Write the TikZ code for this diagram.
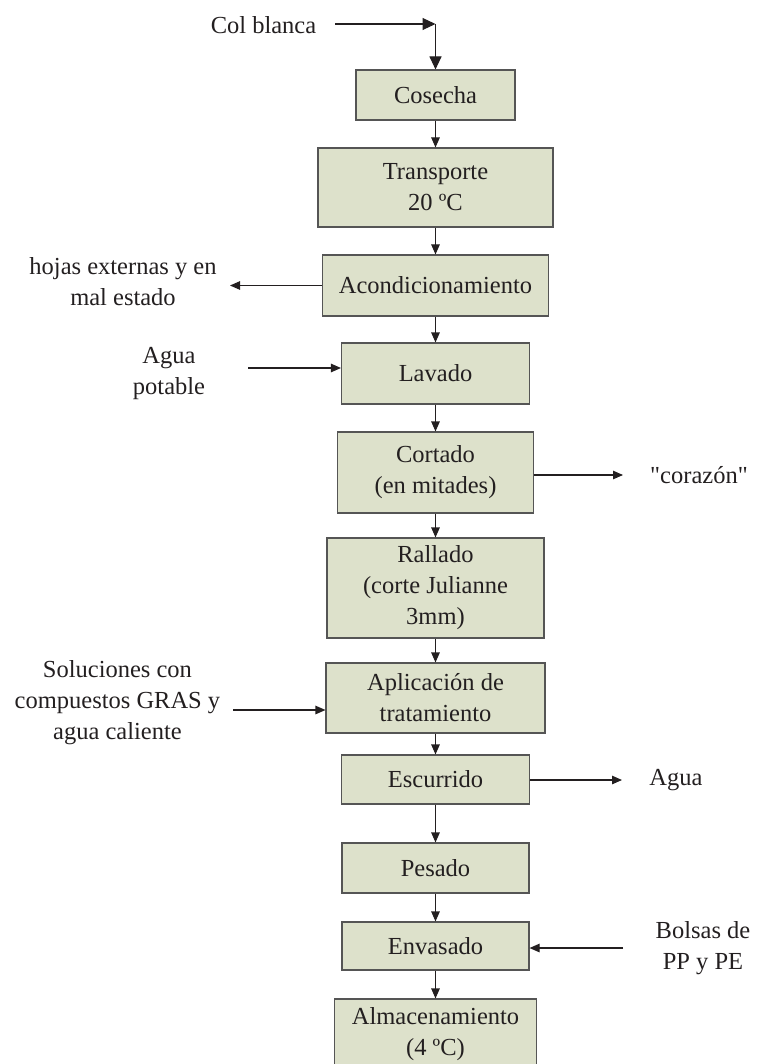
\documentclass[tikz,border=0pt]{standalone}
\usepackage{fontspec}
\setmainfont{Liberation Serif}
\usetikzlibrary{arrows.meta}
\definecolor{boxfill}{RGB}{221,225,203}
\definecolor{boxline}{RGB}{85,85,85}
\definecolor{ink}{RGB}{35,31,32}
\newcommand{\straightquote}{\XeTeXglyph\XeTeXcharglyph"22\relax}

\begin{document}
\begin{tikzpicture}[
    x=1pt, y=-1pt,
    font=\fontsize{24.5}{31}\selectfont,
    stage/.style={draw=boxline, fill=boxfill, line width=1.1pt, inner sep=0pt, align=center, text=ink},
    side/.style={align=center, inner sep=0pt, text=ink},
    flow/.style={draw=ink, line width=1.1pt, -{Triangle[length=10pt,width=8.5pt]}},
    bigflow/.style={draw=ink, line width=1.1pt, -{Triangle[length=13pt,width=12pt]}}
  ]
  \useasboundingbox (0,0) rectangle (759,1064);
  \clip (0,0) rectangle (759,1064);

  % Process stages
  \node[stage, minimum width=159pt, minimum height=50pt] (cosecha) at (435.5,95) {Cosecha};
  \node[stage, minimum width=235pt, minimum height=79pt] (transporte) at (435.5,187.5) {Transporte\\20 ºC};
  \node[stage, minimum width=226pt, minimum height=61pt] (acond) at (435.5,285.5) {Acondicionamiento};
  \node[stage, minimum width=188pt, minimum height=61pt] (lavado) at (435.5,373.5) {Lavado};
  \node[stage, minimum width=196pt, minimum height=81pt] (cortado) at (435.5,472.5) {Cortado\\(en mitades)};
  \node[stage, minimum width=217pt, minimum height=100pt] (rallado) at (435.5,588) {Rallado\\(corte Julianne\\3mm)};
  \node[stage, minimum width=219pt, minimum height=70pt] (aplic) at (435.5,698) {Aplicación de\\tratamiento};
  \node[stage, minimum width=188pt, minimum height=49pt] (escurrido) at (435.5,779.5) {Escurrido};
  \node[stage, minimum width=187pt, minimum height=50pt] (pesado) at (435.5,868) {Pesado};
  \node[stage, minimum width=187pt, minimum height=48pt] (envasado) at (435.5,946) {Envasado};
  \node[stage, minimum width=202pt, minimum height=70pt] (almacen) at (435.5,1034) {Almacenamiento\\(4 ºC)};

  % Inputs and outputs
  \node[side] (col) at (263.5,25) {Col blanca};
  \node[side] (hojas) at (123,281.5) {hojas externas y en\\mal estado};
  \node[side] (agua) at (169,374) {Agua\\potable};
  \node[side] (corazon) at (699,475) {\straightquote corazón\straightquote};
  \node[side] (soluciones) at (117.5,703) {Soluciones con\\compuestos GRAS y\\agua caliente};
  \node[side] (aguaout) at (676,780) {Agua};
  \node[side] (bolsas) at (703,948) {Bolsas de\\PP y PE};

  % Free ends of the side arrows
  \coordinate (colstart) at (335,24);
  \coordinate (colcorner) at (435.5,24);
  \coordinate (hojasend) at (230,285.5);
  \coordinate (aguastart) at (248,368);
  \coordinate (corazonend) at (623,475);
  \coordinate (solstart) at (233,710);
  \coordinate (aguaoutend) at (622,780);
  \coordinate (bolsasstart) at (623,948);

  % Main line
  \draw[bigflow] (colstart) -- (colcorner);
  \draw[bigflow] (colcorner) -- (cosecha.north);
  \foreach \a/\b in {cosecha/transporte, transporte/acond, acond/lavado, lavado/cortado,
                     cortado/rallado, rallado/aplic, aplic/escurrido, escurrido/pesado,
                     pesado/envasado, envasado/almacen}
    \draw[flow] (\a.south) -- (\b.north);

  % Side arrows
  \draw[flow] (acond.west) -- (hojasend);
  \draw[flow] (aguastart) -- (aguastart -| lavado.west);
  \draw[flow] (corazonend -| cortado.east) -- (corazonend);
  \draw[flow] (solstart) -- (solstart -| aplic.west);
  \draw[flow] (aguaoutend -| escurrido.east) -- (aguaoutend);
  \draw[flow] (bolsasstart) -- (bolsasstart -| envasado.east);
\end{tikzpicture}
\end{document}
